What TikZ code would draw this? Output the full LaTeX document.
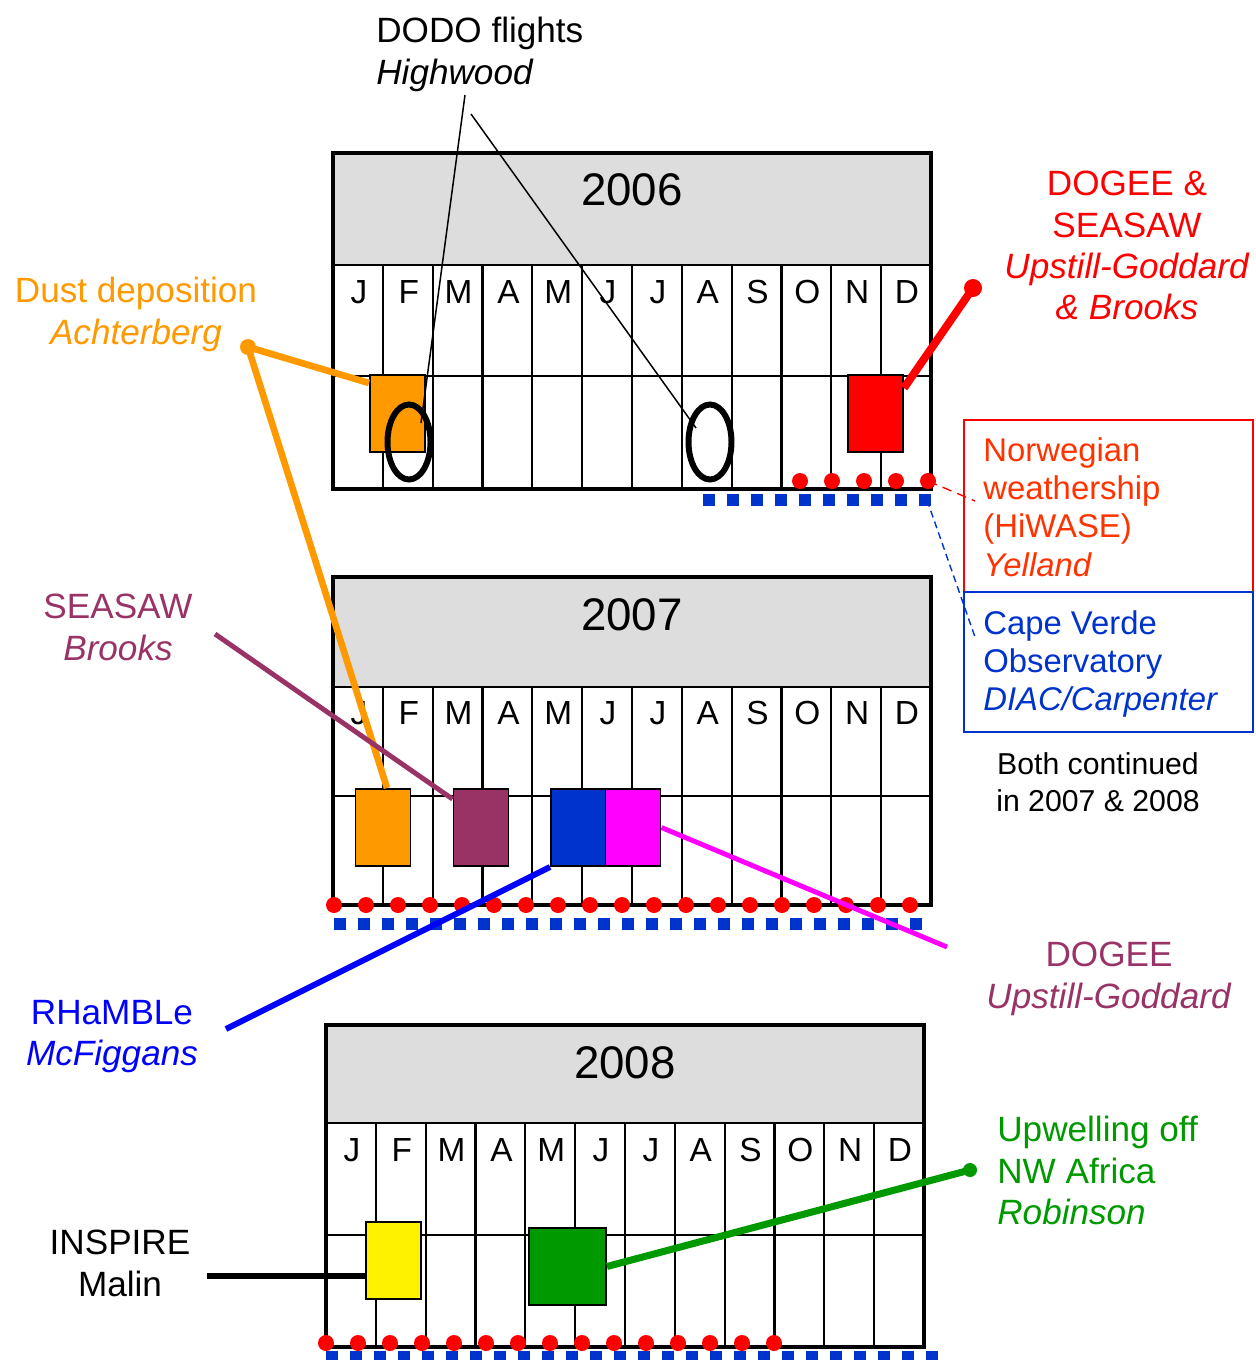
\documentclass[tikz,border=0pt]{standalone}
\usepackage{fontspec}
\setmainfont{Liberation Sans}
\usepackage{tikz}
\usetikzlibrary{calc,shapes.geometric}

\definecolor{headgray}{HTML}{DDDDDD}
\definecolor{dustorange}{HTML}{FF9900}
\definecolor{seasawpurple}{HTML}{993366}
\definecolor{capeblue}{HTML}{0033CC}
\definecolor{linkblue}{HTML}{0000FF}
\definecolor{shipred}{HTML}{FF3300}
\definecolor{upwellgreen}{HTML}{009900}
\definecolor{dogeepink}{HTML}{FF00FF}

\tikzset{
  frame/.style={line width=2.8pt},
  gridline/.style={line width=1.3pt},
  month/.style={font=\fontsize{19}{19}\selectfont, inner sep=0},
  year/.style={font=\fontsize{26}{26}\selectfont, inner sep=0},
  campaign/.style={draw=black, line width=1.1pt, minimum width=1.1cm, minimum height=1.54cm, inner sep=0},
  projlabel/.style={font=\fontsize{20}{23.5}\selectfont, align=center, inner sep=0},
  boxtext/.style={font=\fontsize{18.7}{21.8}\selectfont, align=left, inner sep=0, anchor=north west},
  dodoring/.style={draw=black, ellipse, line width=3.4pt, minimum width=0.86cm, minimum height=1.5cm, inner sep=0},
}

\begin{document}
\begin{tikzpicture}[x=0.02cm, y=-0.02cm]

\useasboundingbox (0,0) rectangle (1256,1360);

% 2006 panel
\fill[headgray] (333,153) rectangle (931,265);
\foreach \i in {1,...,11}
{
\draw[gridline] ({333+\i*49.83},265) -- ({333+\i*49.83},489);
}
\draw[gridline] (333,265) -- (931,265) (333,376) -- (931,376);
\foreach \m [count=\i] in {J,F,M,A,M,J,J,A,S,O,N,D}
{
\node[month] (m06-\i) at ({334+(\i-0.5)*49.83},292) {\m};
}
\draw[frame] (333,153) rectangle (931,489);
\node[year] (y06) at (632,190) {2006};

% 2007 panel
\fill[headgray] (333,577) rectangle (931,687);
\foreach \i in {1,...,11}
{
\draw[gridline] ({333+\i*49.83},687) -- ({333+\i*49.83},905);
}
\draw[gridline] (333,687) -- (931,687) (333,796) -- (931,796);
\foreach \m [count=\i] in {J,F,M,A,M,J,J,A,S,O,N,D}
{
\node[month] (m07-\i) at ({334+(\i-0.5)*49.83},713) {\m};
}
\draw[frame] (333,577) rectangle (931,905);
\node[year] (y07) at (632,615) {2007};

% 2008 panel
\fill[headgray] (326,1025) rectangle (924,1123);
\foreach \i in {1,...,11}
{
\draw[gridline] ({326+\i*49.83},1123) -- ({326+\i*49.83},1347);
}
\draw[gridline] (326,1123) -- (924,1123) (326,1235) -- (924,1235);
\foreach \m [count=\i] in {J,F,M,A,M,J,J,A,S,O,N,D}
{
\node[month] (m08-\i) at ({327+(\i-0.5)*49.83},1150) {\m};
}
\draw[frame] (326,1025) rectangle (924,1347);
\node[year] (y08) at (625,1063) {2008};

% Campaign boxes
\node[campaign, fill=dustorange] (dust06) at (397.5,413.5) {};
\node[campaign, fill=red] (dogee06) at (875.5,413.5) {};
\node[campaign, fill=dustorange] (dust07) at (383,827.5) {};
\node[campaign, fill=seasawpurple] (seasaw07) at (481,827.5) {};
\node[campaign, fill=capeblue] (rhamble07) at (578.5,827.5) {};
\node[campaign, fill=dogeepink] (dogee07) at (633,827.5) {};
\node[campaign, fill=yellow] (inspire08) at (393.5,1260.5) {};
\node[campaign, fill=upwellgreen, minimum width=1.54cm] (upwell08) at (567.5,1266.5) {};

% DODO flight rings
\node[dodoring] (dodoA) at (409,442) {};
\node[dodoring] (dodoB) at (710,442) {};

% Ship and observatory records
\foreach \x in {800,832,...,928}
{
\fill[red] (\x,481) circle (8);
}
\foreach \x in {709,733,...,925}
{
\fill[capeblue] ({\x-6},494) rectangle ++(12,12);
}
\foreach \x in {334,366,...,910}
{
\fill[red] (\x,905) circle (8);
}
\foreach \x in {340,364,...,916}
{
\fill[capeblue] ({\x-6},918) rectangle ++(12,12);
}
\foreach \x in {326,358,...,774}
{
\fill[red] (\x,1343) circle (8);
}
\foreach \x in {332,356,...,932}
{
\fill[capeblue] ({\x-6},1351) rectangle ++(12,12);
}

% Labels
\node[projlabel, anchor=north west, align=left] (dodolab) at (376,17) {DODO flights\\\textit{Highwood}};
\node[projlabel, anchor=north, text=dustorange] (dustlab) at (136,277) {Dust deposition\\\textit{Achterberg}};
\node[projlabel, anchor=north, text=red] (dogeelab) at (1127,171) {DOGEE \&\\SEASAW\\\textit{Upstill-Goddard}\\\textit{\& Brooks}};
\node[projlabel, anchor=north, text=seasawpurple] (seasawlab) at (118,594) {SEASAW\\\textit{Brooks}};
\node[projlabel, anchor=north, text=seasawpurple] (dogeelabB) at (1109,942) {DOGEE\\\textit{Upstill-Goddard}};
\node[projlabel, anchor=north, text=linkblue] (rhamblelab) at (112,1000) {RHaMBLe\\\textit{McFiggans}};
\node[projlabel, anchor=north] (inspirelab) at (120,1230) {INSPIRE\\Malin};
\node[projlabel, anchor=north west, align=left, text=upwellgreen] (upwelllab) at (997,1116) {Upwelling off\\NW Africa\\\textit{Robinson}};

% Ship and observatory boxes
\node[draw=red, line width=1.1pt, minimum width=5.78cm, minimum height=3.44cm, anchor=north west, inner sep=0] (shipbox) at (963,419) {};
\node[boxtext, text=shipred] (shiplab) at (983,437) {Norwegian\\weathership\\(HiWASE)\\\textit{Yelland}};
\node[draw=capeblue, line width=1.1pt, minimum width=5.78cm, minimum height=2.8cm, anchor=north west, inner sep=0] (capebox) at (963,591) {};
\node[boxtext, text=capeblue] (capelab) at (983,610) {Cape Verde\\Observatory\\\textit{DIAC/Carpenter}};
\node[font=\fontsize{17.2}{21}\selectfont, align=center, anchor=north, inner sep=0] (bothlab) at (1098,752) {Both continued\\in 2007 \& 2008};

% Connectors
\coordinate (dodopinA) at (465,95);
\coordinate (dodopinB) at (471,114);
\draw[line width=0.85pt] (dodopinA) -- ($(dodoA.center)+(12,-19)$);
\draw[line width=0.85pt] (dodopinB) -- ($(dodoB.center)+(-14,-14)$);

\coordinate (dustpin) at (248,347);
\fill[dustorange] (dustpin) circle (8);
\draw[dustorange, line width=3.8pt] (dustpin) -- ($(dust06.north west)+(0,9)$);
\draw[dustorange, line width=3.8pt] (dustpin) -- ($(dust07.north)+(4,0)$);

\coordinate (dogeepin) at (973,288);
\fill[red] (dogeepin) circle (9);
\draw[red, line width=4.5pt] (dogeepin) -- ($(dogee06.north east)+(0,14)$);

\coordinate (shipdot) at (928,481);
\coordinate (shipend) at (975,501);
\draw[red, line width=0.8pt, dash pattern=on 5.5pt off 3.5pt] (shipdot) -- (shipend);
\coordinate (capesq) at (927,500);
\coordinate (capeend) at (975,637);
\draw[capeblue, line width=0.8pt, dash pattern=on 4pt off 2.5pt] (capesq) -- (capeend);

\coordinate (seasawpin) at (215,634);
\draw[seasawpurple, line width=2.8pt] (seasawpin) -- ($(seasaw07.north west)+(0,11)$);

\coordinate (dogeepinB) at (947,947);
\draw[dogeepink, line width=2.8pt] (dogee07.east) -- (dogeepinB);

\coordinate (rhamblepin) at (226,1029);
\draw[linkblue, line width=3.4pt] (rhamblepin) -- (rhamble07.south west);

\coordinate (inspirepin) at (207,1276);
\draw[black, line width=3pt] (inspirepin) -- (inspirepin -| inspire08.west);

\coordinate (upwellpin) at (970,1170);
\fill[upwellgreen] (upwellpin) circle (7);
\draw[upwellgreen, line width=4pt] (upwellpin) -- (upwell08.east);

\end{tikzpicture}
\end{document}
